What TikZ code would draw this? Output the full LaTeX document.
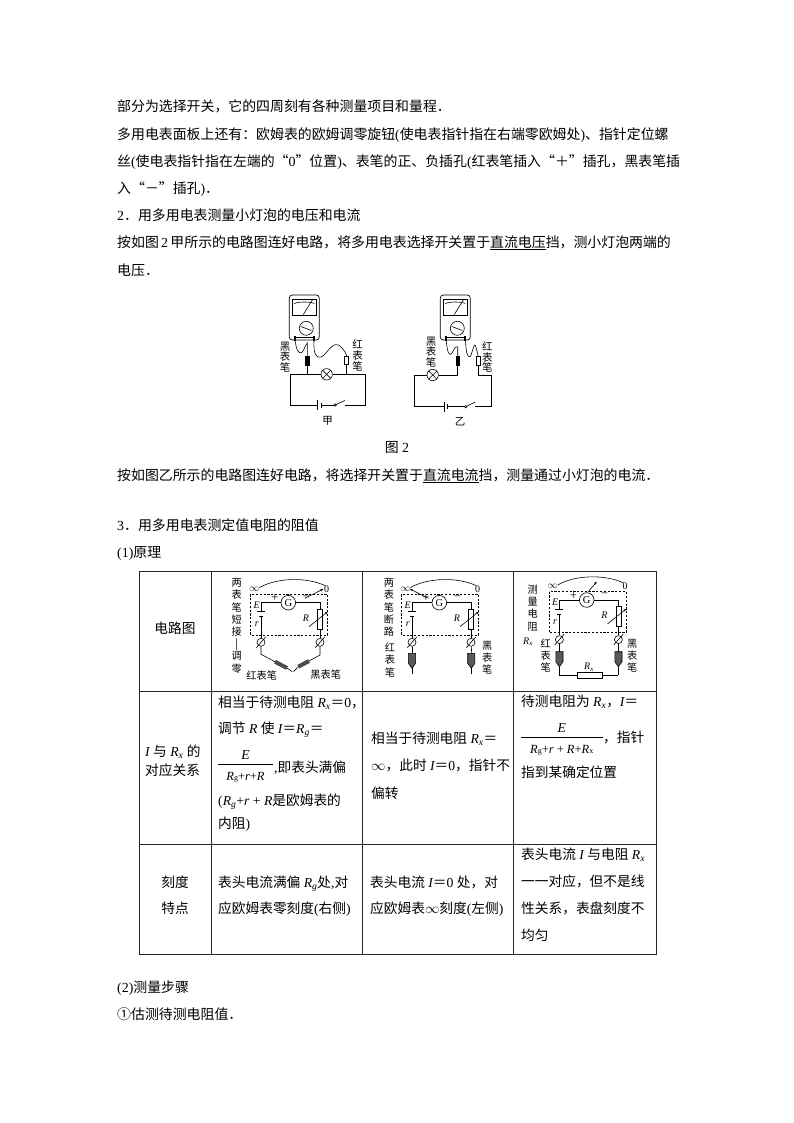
\documentclass[tikz,border=0pt]{standalone}
\usepackage{fontspec}
\setmainfont{Noto Sans CJK SC}
\newfontfamily\enfont{Liberation Serif}
\usetikzlibrary{positioning}
\usetikzlibrary{arrows.meta}
\newcommand{\en}[1]{{\enfont #1}}
\newcommand{\itv}[1]{{\enfont\itshape #1}}
\newcommand{\Rlow}[1]{{\enfont\itshape R\textsubscript{#1}}}
\newcommand{\Rmid}[1]{{\enfont\itshape R{\fontsize{8}{8}\selectfont\upshape #1}}}
\tikzset{
	bodytext/.style={anchor=west,inner sep=0pt,text height=12pt,text depth=1.7pt,font=\fontsize{13.9}{15}\selectfont},
	celltext/.style={anchor=west,inner sep=0pt,text height=12pt,text depth=1.7pt,font=\fontsize{13.7}{15}\selectfont},
	smalltext/.style={inner sep=0pt,align=center,font=\fontsize{10.2}{12.2}\selectfont},
	figlabel/.style={inner sep=0pt,align=center,font=\fontsize{10.5}{10.8}\selectfont},
	tinytext/.style={inner sep=0pt,font=\enfont\itshape\fontsize{10}{11}\selectfont},
	signtext/.style={inner sep=0pt,font=\enfont\fontsize{12.5}{13}\selectfont},
	wire/.style={line width=0.6pt},
	tableline/.style={line width=0.9pt,black!85},
	lampnode/.style={circle,draw,line width=0.6pt,minimum size=11.4pt,inner sep=0pt,fill=white,
		path picture={\draw (path picture bounding box.north west) -- (path picture bounding box.south east);
			\draw (path picture bounding box.north east) -- (path picture bounding box.south west);}},
	gnode/.style={circle,draw,line width=0.6pt,minimum size=14.6pt,inner sep=0pt,fill=white,font=\enfont\fontsize{10.5}{11}\selectfont},
	termnode/.style={circle,draw,line width=0.6pt,minimum size=8pt,inner sep=0pt,fill=white},
	resnode/.style={rectangle,draw,line width=0.6pt,fill=white,inner sep=0pt},
}
\newcommand{\multimeter}[1]{
	\begin{scope}[shift={(#1)}]
		\draw[line width=0.7pt,rounded corners=3pt] (0,0) rectangle (30,45);
		\draw[wire] (3,4) rectangle (27.4,20);
		\draw[wire] (5,8.5) .. controls (10,6.5) and (20,6.5) .. (25,8.5);
		\draw[wire] (14,19.5) -- (23,5);
		\draw[wire] (17,33.3) circle (7);
		\draw[wire] (11.5,31.5) -- (22,35.5);
		\draw[wire] (5.7,42.5) -- (24.7,42.5);
		\draw[line width=1.7pt] (5.7,40.5) -- (5.7,46);
		\draw[line width=1.7pt] (24.7,40.5) -- (24.7,46);
	\end{scope}
}
\newcommand{\ohmcircuit}[2]{
	\begin{scope}[shift={(#1)}]
		\draw[wire,dashed,dash pattern=on 2.2pt off 1.6pt] (-37.7,-8.4) rectangle (39.4,32.3);
		\draw[wire] (-29,-15) .. controls (-12,-25) and (18,-26) .. (37,-17);
		\node[tinytext] (#2-inf) at (-34,-13.4) {\upshape$\infty$};
		\node[tinytext] (#2-zero) at (38.4,-13.4) {\upshape 0};
		\node[gnode] (#2-g) at (0,0) {G};
		\node[termnode] (#2-tl) at (-27.3,39.6) {};
		\node[termnode] (#2-tr) at (31.7,39.6) {};
		\node[resnode,minimum width=5pt,minimum height=20pt] (#2-r) at (31.7,16.5) {};
		\coordinate (#2-bt) at (-27.3,9);
		\coordinate (#2-bb) at (-27.3,14);
		\draw[wire] (#2-g) -- (-27.3,0) -- (#2-bt);
		\draw[wire] (#2-bb) -- (#2-tl);
		\draw[wire] (-31.3,9) -- (-23.3,9);
		\draw[line width=1pt] (-29.3,14) -- (-25.3,14);
		\draw[wire] (#2-g) -- (31.7,0) -- (#2-r);
		\draw[wire] (#2-r) -- (#2-tr);
		\draw[wire,-{Stealth[length=3pt,width=2.4pt]}] (20.7,24) -- (39.4,9);
		\draw[wire] (-32,45) -- (-22.6,34.2);
		\draw[wire] (27,45) -- (36.4,34.2);
		\node[tinytext] (#2-e) at (-31.6,2.3) {E};
		\node[tinytext] (#2-rr) at (-31.6,21.7) {r};
		\node[tinytext] (#2-rv) at (17.7,15.7) {R};
		\node[signtext] (#2-plus) at (-13.3,-4.4) {+};
		\node[signtext] (#2-minus) at (18,-4.6) {−};
	\end{scope}
}
\newcommand{\straightpen}[3]{
	\draw[line width=0.6pt,fill=black!65] (#1-3.6,#2) -- (#1+3.6,#2) -- (#1+3.6,#2+10) -- (#1,#2+15) -- (#1-3.6,#2+10) -- cycle;
	\draw[wire] (#1,#2+15) -- (#1,#3);
}
\begin{document}
\begin{tikzpicture}[x=1pt,y=-1pt]
	\useasboundingbox (0,0) rectangle (794,1123);
	\fill[white] (0,0) rectangle (794,1123);

	\node[bodytext] (line1) at (117,106) {部分为选择开关，它的四周刻有各种测量项目和量程．};
	\node[bodytext] (line2) at (117,134) {多用电表面板上还有：欧姆表的欧姆调零旋钮\en{(}使电表指针指在右端零欧姆处\en{)}、指针定位螺};
	\node[bodytext] (line3) at (117,161) {丝\en{(}使电表指针指在左端的“\en{0}”位置\en{)}、表笔的正、负插孔\en{(}红表笔插入“＋”插孔，黑表笔插};
	\node[bodytext] (line4) at (117,188) {入“－”插孔\en{)}．};
	\node[bodytext] (line5) at (117,215) {\en{2}．用多用电表测量小灯泡的电压和电流};
	\node[bodytext] (line6) at (117,242) {按如图\,\en{2}\,甲所示的电路图连好电路，将多用电表选择开关置于\underline{直流电压}挡，测小灯泡两端的};
	\node[bodytext] (line7) at (117,270) {电压．};
	\node[bodytext,anchor=center] (figcap) at (397,447) {图\en{ 2}};
	\node[bodytext] (line8) at (117,475) {按如图乙所示的电路图连好电路，将选择开关置于\underline{直流电流}挡，测量通过小灯泡的电流．};
	\node[bodytext] (line9) at (117,525) {\en{3}．用多用电表测定值电阻的阻值};
	\node[bodytext] (line10) at (117,552) {\en{(1)}原理};
	\node[bodytext] (line11) at (117,987) {\en{(2)}测量步骤};
	\node[bodytext] (line12) at (117,1014) {①估测待测电阻值．};

	\multimeter{289.3,295}
	\node[lampnode] (lampa) at (326.7,374.3) {};
	\node[figlabel] (blacka) at (285,357) {黑\\表\\笔};
	\node[figlabel] (reda) at (357.7,355.5) {红\\表\\笔};
	\node[figlabel] (capa) at (327.7,421) {甲};
	\node[resnode,fill=black,minimum width=3.6pt,minimum height=8.5pt] (pena) at (307.3,361) {};
	\node[resnode,minimum width=4pt,minimum height=8pt] (penb) at (346.7,360.7) {};
	\draw[wire] (lampa) -- (290,374.3) -- (290,405) -- (317.7,405);
	\draw[wire] (321,405) -- (335,405);
	\draw[wire] (lampa) -- (365,374.3) -- (365,405) -- (345,405);
	\draw[wire] (317.7,400) -- (317.7,410);
	\draw[wire] (321,402.5) -- (321,407.5);
	\draw[wire] (335.2,405) circle (1.2);
	\draw[wire] (336,404.5) -- (345,400.5);
	\draw[wire] (pena) -- (307.3,374.3);
	\draw[wire] (penb) -- (346.7,374.3);
	\draw[wire] plot[smooth,tension=0.7] coordinates {(295,340) (297.3,350) (301.7,352.7) (305,346.7) (307.3,343)} -- (pena);
	\draw[wire] plot[smooth,tension=0.7] coordinates {(314,340) (315,353.3) (321.7,356.7) (331.7,346.7) (338.3,345) (345,352) (346.7,356.7)};

	\multimeter{440.3,295}
	\node[lampnode] (lampb) at (432.7,375) {};
	\node[figlabel] (blackb) at (431,352) {黑\\表\\笔};
	\node[figlabel] (redb) at (487.3,357) {红\\表\\笔};
	\node[figlabel] (capb) at (460,422) {乙};
	\node[resnode,fill=black,minimum width=3.6pt,minimum height=9pt] (penc) at (457.7,361.2) {};
	\node[resnode,minimum width=4pt,minimum height=8.5pt] (pend) at (478.3,361) {};
	\draw[wire] (lampb) -- (414.3,375) -- (414.3,406.7) -- (444,406.7);
	\draw[wire] (447.3,406.7) -- (465,406.7);
	\draw[wire] (pend) -- (478.3,375) -- (491.7,375) -- (491.7,406.7) -- (475,406.7);
	\draw[wire] (444,401.7) -- (444,411.7);
	\draw[wire] (447.3,404.2) -- (447.3,409.2);
	\draw[wire] (465.7,406.7) circle (1.2);
	\draw[wire] (466.5,406.2) -- (475,402.2);
	\draw[wire] (penc) -- (457.7,375) -- (lampb);
	\draw[wire] plot[smooth,tension=0.7] coordinates {(446,340) (448.3,352.5) (451.7,353.5) (455,347.5) (457.7,347)} -- (penc);
	\draw[wire] plot[smooth,tension=0.7] coordinates {(465.5,340) (466.7,352.5) (470,356.7) (473.3,348) (475,345) (476.7,350) (478.3,356.7)};

	\draw[tableline] (139,571) rectangle (656,954);
	\draw[tableline] (139,691) -- (656,691);
	\draw[tableline] (139,844) -- (656,844);
	\draw[tableline] (211.5,571) -- (211.5,954);
	\draw[tableline] (362.5,571) -- (362.5,954);
	\draw[tableline] (513.5,571) -- (513.5,954);

	\node[celltext,anchor=center] (rowa) at (175,628) {电路图};
	\ohmcircuit{288.3,602.7}{ca}
	\ohmcircuit{439.3,602.7}{cb}
	\ohmcircuit{586.7,600}{cc}
	\draw[wire,-{Stealth[length=3pt,width=2.4pt]}] (305,598.3) -- (323.3,589);
	\draw[wire,-{Stealth[length=3pt,width=2.4pt]}] (428.3,598.3) -- (410,589);
	\draw[wire,-{Stealth[length=3pt,width=2.4pt]}] (588.3,591.7) -- (596.7,581.7);

	\node[smalltext] (labela) at (236.7,626) {两\\表\\笔\\短\\接\\|\\调\\零};
	\node[smalltext,anchor=center] (labelb) at (261.7,676) {红表笔};
	\node[smalltext,anchor=center] (labelc) at (325.7,675) {黑表笔};
	\draw[wire] (ca-tl) -- (261,654.3) -- (275,661.7);
	\draw[line width=4pt,black!70] (275,661.7) -- (287,668);
	\draw[wire] (287,668) -- (292.3,671.7);
	\draw[wire] (ca-tr) -- (320,655) -- (309,661);
	\draw[line width=4pt,black!70] (309,661) -- (298.3,666.7);
	\draw[wire] (298.3,666.7) -- (293.5,671.7);

	\node[smalltext] (labeld) at (389,607.5) {两\\表\\笔\\断\\路};
	\node[smalltext] (labele) at (390,660) {红\\表\\笔};
	\node[smalltext] (labelf) at (487.3,657.5) {黑\\表\\笔};
	\draw[wire] (cb-tl) -- (412,653.3);
	\draw[wire] (cb-tr) -- (471.7,653.3);
	\straightpen{412}{653.3}{674.3}
	\straightpen{471.3}{653.3}{674.3}

	\node[smalltext] (labelg) at (532.7,608) {测\\量\\电\\阻};
	\node[tinytext] (labelh) at (528,641.7) {\Rlow{x}};
	\node[smalltext] (labeli) at (545.7,655.5) {红\\表\\笔};
	\node[smalltext] (labelj) at (632.3,655.5) {黑\\表\\笔};
	\node[tinytext] (labelk) at (589,667) {\Rlow{x}};
	\node[resnode,minimum width=25pt,minimum height=6pt] (rx) at (590,674.8) {};
	\draw[wire] (cc-tl) -- (559.4,651.7);
	\draw[wire] (cc-tr) -- (618.4,651.7);
	\straightpen{559.4}{651.7}{674.8}
	\straightpen{618.4}{651.7}{674.8}
	\draw[wire] (559.4,674.8) -- (rx);
	\draw[wire] (rx) -- (618.4,674.8);

	\node[celltext] (rowb1) at (145,751) {\itv{I }与\en{ }\Rlow{x}\en{ }的};
	\node[celltext] (rowb2) at (145,770) {对应关系};
	\node[celltext] (ca1) at (218,702) {相当于待测电阻\en{ }\Rlow{x}＝\en{0}，};
	\node[celltext] (ca2) at (218,728) {调节\itv{ R }使\itv{ I}＝\Rlow{g}＝};
	\node[celltext,anchor=center] (ca3) at (245.5,754) {\itv{E}};
	\draw[wire] (218,764) -- (273,764);
	\node[celltext,anchor=center,font=\fontsize{12.5}{14}\selectfont] (ca4) at (245.5,775.5) {\Rmid{g}\en{+}\itv{r}\en{+}\itv{R}};
	\node[celltext] (ca5) at (274,767.5) {\en{,}即表头满偏};
	\node[celltext] (ca6) at (218,800) {\en{(}\Rlow{g}\en{+}\itv{r}\en{ + }\itv{R}是欧姆表的};
	\node[celltext] (ca7) at (218,823) {内阻\en{)}};

	\node[celltext] (cb1) at (371,738) {相当于待测电阻\en{ }\Rlow{x}＝};
	\node[celltext] (cb2) at (371,765) {\en{$\infty$}，此时\itv{ I}＝\en{0}，指针不};
	\node[celltext] (cb3) at (371,793) {偏转};

	\node[celltext] (cc1) at (521,701) {待测电阻为\en{ }\Rlow{x}，\itv{I}＝};
	\node[celltext,anchor=center] (cc2) at (561.7,727.5) {\itv{E}};
	\draw[wire] (520.7,737.3) -- (602.7,737.3);
	\node[celltext,anchor=center,font=\fontsize{12.5}{14}\selectfont] (cc3) at (561.7,748) {\Rmid{g}\en{+}\itv{r}\en{ + }\itv{R}\en{+}\Rmid{x}};
	\node[celltext] (cc4) at (603,737) {，指针};
	\node[celltext] (cc5) at (521,772) {指到某确定位置};

	\node[celltext,anchor=center] (rowc1) at (175,882) {刻度};
	\node[celltext,anchor=center] (rowc2) at (175,908) {特点};
	\node[celltext] (da1) at (218,882) {表头电流满偏\en{ }\Rlow{g}处\en{,}对};
	\node[celltext] (da2) at (218,908) {应欧姆表零刻度\en{(}右侧\en{)}};
	\node[celltext] (db1) at (370,882) {表头电流\itv{ I}＝\en{0 }处，对};
	\node[celltext] (db2) at (370,908) {应欧姆表\en{$\infty$}刻度\en{(}左侧\en{)}};
	\node[celltext] (dc1) at (521,854) {表头电流\itv{ I }与电阻\en{ }\Rlow{x}};
	\node[celltext] (dc2) at (521,881) {一一对应，但不是线};
	\node[celltext] (dc3) at (521,908) {性关系，表盘刻度不};
	\node[celltext] (dc4) at (521,935) {均匀};
\end{tikzpicture}
\end{document}
